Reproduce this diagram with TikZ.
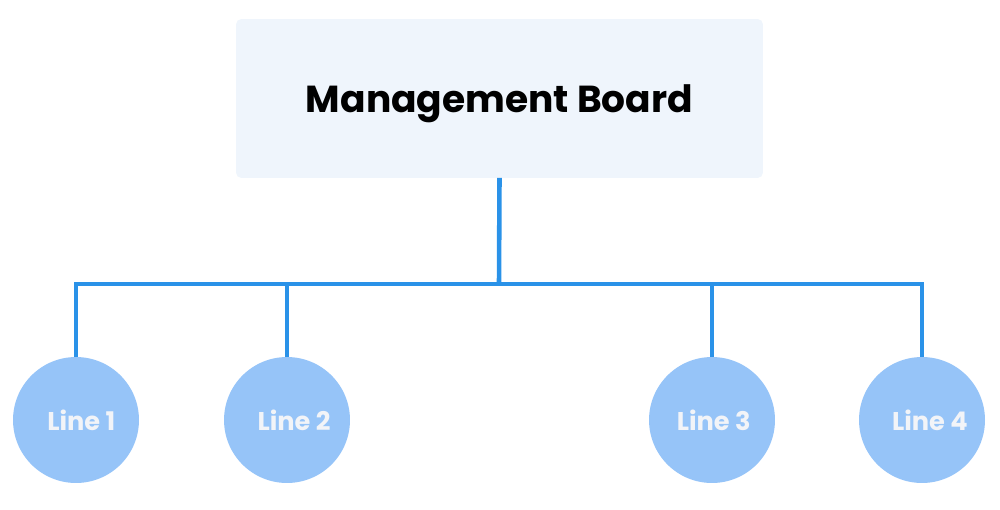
\documentclass[tikz,border=0pt]{standalone}
\usepackage{fontspec}
\setmainfont{Poppins}
\definecolor{linkblue}{RGB}{42, 146, 232}
\definecolor{bubble}{RGB}{150, 196, 248}
\definecolor{boardbg}{RGB}{239, 245, 252}
\definecolor{bubbletext}{RGB}{242, 244, 248}
\usetikzlibrary{positioning, calc}

\begin{document}
\begin{tikzpicture}[
        x=0.02cm, y=-0.02cm,
        board/.style={rectangle, rounded corners=3pt, fill=boardbg, draw=none, outer sep=0pt, text depth=0pt, minimum width=10.54cm, minimum height=3.18cm, font=\fontsize{21.4}{25}\selectfont\bfseries},
        unit/.style={circle, fill=bubble, draw=none, outer sep=0pt, inner sep=0pt, minimum size=2.52cm, text=bubbletext, font=\fontsize{14.6}{17}\selectfont\bfseries},
        link/.style={linkblue, line width=2.6pt}
    ]
        \useasboundingbox (0,0) rectangle (1000,510);

        % Nodes
        \node[board] (top) at (499.5, 98.5) {Management Board};
        \node[unit]  (l1)  at (76, 420)  {\hspace{6pt}Line 1};
        \node[unit]  (l2)  at (287, 420) {\hspace{8pt}Line 2};
        \node[unit]  (l3)  at (712, 420) {\hspace{2pt}Line 3};
        \node[unit]  (l4)  at (922, 420) {\hspace{9pt}Line 4};
        \coordinate (bus) at (499, 284);

        % Connectors
        \draw[link] (top.south) -- (bus);
        \draw[link] (l1.north) -- (l1.north |- bus) -- (l4.north |- bus) -- (l4.north);
        \draw[link] (l2.north) -- (l2.north |- bus);
        \draw[link] (l3.north) -- (l3.north |- bus);
    \end{tikzpicture}
\end{document}
